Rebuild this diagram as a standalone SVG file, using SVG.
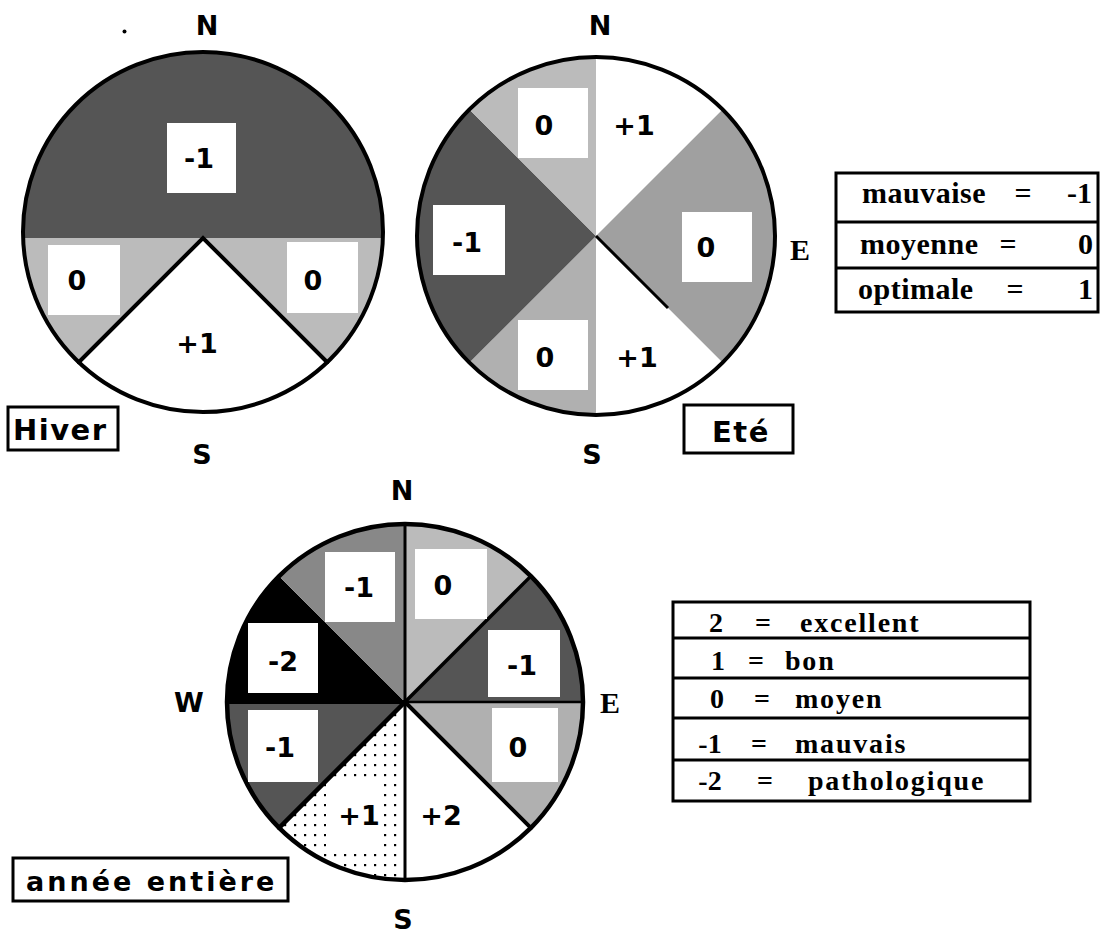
<svg xmlns="http://www.w3.org/2000/svg" width="1100" height="937" viewBox="0 0 1100 937">
<style>
.lbl{font-family:"DejaVu Sans",sans-serif;font-weight:bold;font-size:27px;fill:#000;text-anchor:middle}
.cmp{font-family:"DejaVu Sans",sans-serif;font-weight:bold;font-size:27px;fill:#000;text-anchor:middle}
.cmps{font-family:"Liberation Serif",serif;font-weight:bold;font-size:30px;fill:#000;text-anchor:middle}
.ttl{font-family:"DejaVu Sans",sans-serif;font-weight:bold;font-size:29px;fill:#000;letter-spacing:1.5px}
.leg{font-family:"Liberation Serif",serif;font-weight:bold;font-size:30px;fill:#000;letter-spacing:0.5px}
.legm{font-family:"Liberation Serif",serif;font-weight:bold;font-size:30px;fill:#000;text-anchor:middle}
.lege{font-family:"Liberation Serif",serif;font-weight:bold;font-size:30px;fill:#000;text-anchor:end}
.leg2{font-family:"Liberation Serif",serif;font-weight:bold;font-size:28px;fill:#000;letter-spacing:1.8px}
.leg2m{font-family:"Liberation Serif",serif;font-weight:bold;font-size:28px;fill:#000;text-anchor:middle}
.wb{fill:#fff;stroke:none}
.box{fill:#fff;stroke:#000;stroke-width:3}
.rim{fill:none;stroke:#000;stroke-width:4}
.ln{stroke:#000;stroke-width:4;fill:none;stroke-linecap:round}
.dark{fill:#555}
.mid{fill:#888}
.med{fill:#a0a0a0}
.light{fill:#bbb}
.light2{fill:#b0b0b0}
.blk{fill:#000}
</style>
<defs>
<pattern id="dots" width="10" height="10" patternUnits="userSpaceOnUse">
<rect width="10" height="10" fill="#fff"/>
<rect x="4" y="4" width="2.2" height="2.2" fill="#000"/>
</pattern>
</defs>

<g id="hiver">
<circle cx="203" cy="232" r="180" fill="#fff"/>
<path class="dark" d="M23.1,238 A180,180 0 1 1 382.9,238 Z"/>
<path class="light" d="M382.9,238 A180,180 0 0 1 23.1,238 Z"/>
<path fill="#fff" d="M203,238 L327.25,362.25 A180,180 0 0 1 78.75,362.25 Z"/>
<polyline class="ln" points="78.75,362.25 203,238 327.25,362.25"/>
<circle class="rim" cx="203" cy="232" r="180"/>
<rect class="wb" x="167" y="123" width="69" height="70"/>
<rect class="wb" x="48" y="245" width="72" height="70"/>
<rect class="wb" x="287" y="242" width="71" height="71"/>
<text class="lbl" x="199" y="168">-1</text>
<text class="lbl" x="77" y="290">0</text>
<text class="lbl" x="313" y="290">0</text>
<text class="lbl" x="197" y="353">+1</text>
<text class="cmp" x="207" y="35">N</text>
<text class="cmp" x="202" y="464">S</text>
<circle cx="124.5" cy="31.5" r="2" fill="#000"/>
</g>
<g id="hiver-title">
<rect class="box" x="8" y="407" width="110" height="43"/>
<text class="ttl" x="13" y="440">Hiver</text>
</g>

<g id="ete">
<circle cx="596" cy="236" r="179" fill="#fff"/>
<path class="med" d="M596,236 L722.57,109.43 A179,179 0 0 1 722.57,362.57 Z"/>
<path class="light2" d="M596,236 L596,415 A179,179 0 0 1 469.43,362.57 Z"/>
<path class="dark" d="M596,236 L469.43,362.57 A179,179 0 0 1 469.43,109.43 Z"/>
<path class="light" d="M596,236 L469.43,109.43 A179,179 0 0 1 596,57 Z"/>
<line x1="596" y1="236" x2="668" y2="308" stroke="#000" stroke-width="3"/>
<circle class="rim" cx="596" cy="236" r="179"/>
<rect class="wb" x="518" y="88" width="70" height="70"/>
<rect class="wb" x="433" y="205" width="72" height="70"/>
<rect class="wb" x="682" y="212" width="70" height="70"/>
<rect class="wb" x="518" y="320" width="70" height="70"/>
<text class="lbl" x="544" y="135">0</text>
<text class="lbl" x="634" y="135">+1</text>
<text class="lbl" x="467" y="252">-1</text>
<text class="lbl" x="706" y="257">0</text>
<text class="lbl" x="545" y="367">0</text>
<text class="lbl" x="637" y="367">+1</text>
<text class="cmp" x="600" y="35">N</text>
<text class="cmp" x="592" y="464">S</text>
<text class="cmps" x="800" y="260">E</text>
</g>
<g id="ete-title">
<rect class="box" x="684" y="405" width="109" height="48"/>
<text class="ttl" x="712" y="442">Eté</text>
</g>

<g id="legend-saison">
<rect class="box" x="836" y="173" width="262" height="139"/>
<line x1="836" y1="222" x2="1098" y2="222" stroke="#000" stroke-width="3"/>
<line x1="836" y1="268" x2="1098" y2="268" stroke="#000" stroke-width="3"/>
<text class="leg" x="862" y="203">mauvaise</text>
<text class="legm" x="1023" y="203">=</text>
<text class="lege" x="1092" y="203">-1</text>
<text class="leg" x="860" y="254">moyenne</text>
<text class="legm" x="1008" y="254">=</text>
<text class="lege" x="1093" y="254">0</text>
<text class="leg" x="858" y="299">optimale</text>
<text class="legm" x="1015" y="299">=</text>
<text class="lege" x="1093" y="299">1</text>
</g>

<g id="annee">
<circle cx="405" cy="702" r="178" fill="#fff"/>
<path class="light" d="M405,702 L405,524 A178,178 0 0 1 530.87,576.13 Z"/>
<path class="dark" d="M405,702 L530.87,576.13 A178,178 0 0 1 583,702 Z"/>
<path class="light2" d="M405,702 L583,702 A178,178 0 0 1 530.87,827.87 Z"/>
<path fill="url(#dots)" d="M405,702 L405,880 A178,178 0 0 1 279.13,827.87 Z"/>
<path class="dark" d="M405,702 L279.13,827.87 A178,178 0 0 1 227,702 Z"/>
<path class="blk" d="M405,702 L227,702 A178,178 0 0 1 279.13,576.13 Z"/>
<path class="mid" d="M405,702 L279.13,576.13 A178,178 0 0 1 405,524 Z"/>
<rect class="wb" x="326" y="783" width="56" height="66"/>
<g stroke="#000" fill="none" stroke-linecap="round">
<line x1="405" y1="702" x2="405" y2="524" stroke-width="3"/>
<line x1="405" y1="702" x2="530.87" y2="576.13" stroke-width="3.5"/>
<line x1="405" y1="702" x2="583" y2="702" stroke-width="2.5"/>
<line x1="405" y1="702" x2="530.87" y2="827.87" stroke-width="4"/>
<line x1="405" y1="702" x2="405" y2="880" stroke-width="3"/>
<line x1="405" y1="702" x2="279.13" y2="827.87" stroke-width="4.5"/>
<line x1="405" y1="702" x2="227" y2="702" stroke-width="4"/>
</g>
<circle cx="405" cy="702" r="178" fill="none" stroke="#000" stroke-width="4.5"/>
<rect class="wb" x="415" y="549" width="72" height="70"/>
<rect class="wb" x="488" y="630" width="72" height="67"/>
<rect class="wb" x="492" y="708" width="66" height="74"/>
<rect class="wb" x="248" y="710" width="70" height="72"/>
<rect class="wb" x="248" y="623" width="70" height="70"/>
<rect class="wb" x="325" y="552" width="70" height="70"/>
<text class="lbl" x="443" y="595">0</text>
<text class="lbl" x="522" y="675">-1</text>
<text class="lbl" x="518" y="757">0</text>
<text class="lbl" x="441" y="825">+2</text>
<text class="lbl" x="359" y="825">+1</text>
<text class="lbl" x="280" y="757">-1</text>
<text class="lbl" x="283" y="671">-2</text>
<text class="lbl" x="359" y="597">-1</text>
<text class="cmp" x="402" y="500">N</text>
<text class="cmp" x="403" y="929">S</text>
<text class="cmp" x="189" y="712">W</text>
<text class="cmps" x="610" y="713">E</text>
</g>
<g id="annee-title">
<rect class="box" x="13" y="858" width="275" height="43"/>
<text class="ttl" x="26" y="891" style="letter-spacing:3px;font-size:27px">année  entière</text>
</g>

<g id="legend-annee">
<rect class="box" x="673" y="602" width="357" height="199"/>
<g stroke="#000" stroke-width="3">
<line x1="673" y1="638" x2="1030" y2="638"/>
<line x1="673" y1="678" x2="1030" y2="678"/>
<line x1="673" y1="718" x2="1030" y2="718"/>
<line x1="673" y1="760" x2="1030" y2="760"/>
</g>
<text class="leg2m" x="716" y="632">2</text>
<text class="leg2m" x="763" y="632">=</text>
<text class="leg2" x="800" y="632">excellent</text>
<text class="leg2m" x="718" y="670">1</text>
<text class="leg2m" x="756" y="670">=</text>
<text class="leg2" x="785" y="670">bon</text>
<text class="leg2m" x="717" y="708">0</text>
<text class="leg2m" x="762" y="708">=</text>
<text class="leg2" x="795" y="708">moyen</text>
<text class="leg2m" x="710" y="753">-1</text>
<text class="leg2m" x="759" y="753">=</text>
<text class="leg2" x="795" y="753">mauvais</text>
<text class="leg2m" x="710" y="790">-2</text>
<text class="leg2m" x="765" y="790">=</text>
<text class="leg2" x="808" y="790">pathologique</text>
</g>
</svg>
